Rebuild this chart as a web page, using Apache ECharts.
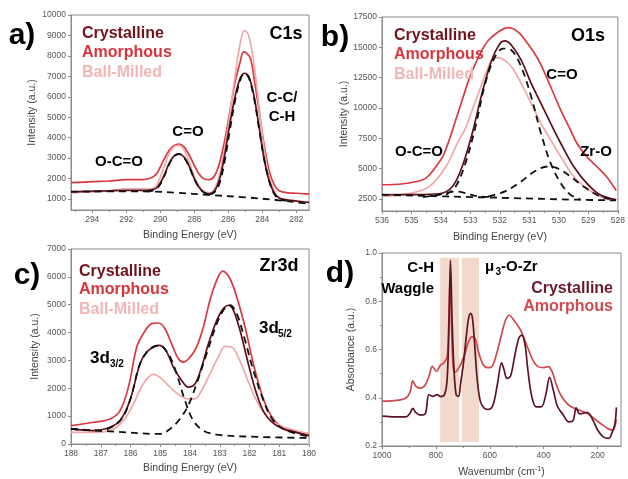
<!DOCTYPE html>
<html><head><meta charset="utf-8">
<script src="https://cdn.jsdelivr.net/npm/echarts@6/dist/echarts.min.js"></script>
<style>html,body{margin:0;padding:0;background:#fff}#c{width:628px;height:479px}</style>
</head><body><div id="c"></div>
<script>
// ---------- Panel a) C1s ----------
const c1sCrystalline = [[295.25,1350],[294.5,1370],[294,1380],[293,1400],[292,1420],[291,1420],[290.5,1450],[290.2,1550],[289.8,2100],[289.5,2700],[289.2,3100],[288.9,3200],[288.6,3050],[288.3,2600],[288.0,2000],[287.7,1550],[287.4,1300],[287.1,1250],[286.8,1400],[286.5,2000],[286.2,3200],[285.9,4700],[285.6,6000],[285.3,6900],[285.05,7150],[284.8,7000],[284.5,6100],[284.2,4600],[283.9,3000],[283.6,1900],[283.3,1300],[283.0,1050],[282.5,950],[282,900],[281.5,850],[281.25,830]];
const c1sAmorphous = [[295.25,1800],[294.5,1820],[294,1850],[293,1880],[292,1950],[291,1950],[290.5,2050],[290.2,2250],[289.8,2900],[289.5,3350],[289.2,3600],[288.9,3680],[288.6,3550],[288.3,3150],[288.0,2650],[287.7,2200],[287.4,1980],[287.1,1950],[286.8,2150],[286.5,2800],[286.2,3900],[285.9,5300],[285.6,6700],[285.3,7700],[285.1,8200],[284.95,8150],[284.7,7900],[284.5,7000],[284.2,5400],[283.9,3700],[283.6,2400],[283.3,1700],[283.0,1400],[282.5,1300],[282,1280],[281.5,1250],[281.25,1250]];
const c1sBallMilled = [[295.25,1300],[294,1350],[293,1400],[292,1500],[291,1500],[290.5,1500],[290.2,1700],[289.8,2500],[289.5,3200],[289.2,3550],[288.9,3620],[288.6,3400],[288.3,2800],[288.0,2100],[287.7,1600],[287.4,1350],[287.1,1300],[286.8,1500],[286.5,2200],[286.2,3500],[285.9,5200],[285.6,7000],[285.3,8600],[285.05,9250],[284.8,9000],[284.5,7700],[284.2,5600],[283.9,3500],[283.6,2100],[283.3,1400],[283.0,1050],[282.5,950],[282,900],[281.25,850]];
const c1sBackground = [[295.25,1360],[292,1370],[290.4,1360],[289,1300],[287.2,1200],[285,1080],[283.2,950],[282,840],[281.25,760]];
const c1sFitCO = [[290.8,1380],[290.4,1420],[290.1,1600],[289.8,2050],[289.5,2650],[289.2,3080],[288.9,3200],[288.6,3020],[288.3,2580],[288.0,1980],[287.7,1540],[287.4,1300],[287.1,1230]];
const c1sFitCC = [[287.1,1230],[286.8,1330],[286.5,1800],[286.2,2900],[285.9,4400],[285.6,5800],[285.3,6800],[285.05,7150],[284.8,6950],[284.5,6000],[284.2,4500],[283.9,3000],[283.6,1900],[283.3,1250],[283.0,1000],[282.6,920]];
const c1sXTicks = [294,292,290,288,286,284,282];
const c1sXMinor = [295,293,291,289,287,285,283];
const c1sYTicks = [1000,2000,3000,4000,5000,6000,7000,8000,9000,10000];

// ---------- Panel b) O1s ----------
const o1sAmorphous = [[536.0,3663],[535.28,3745],[534.61,4074],[534.39,4485],[534.17,5170],[533.94,5992],[533.72,7362],[533.5,9006],[533.28,10650],[533.06,12294],[532.83,13664],[532.61,14760],[532.39,15582],[532.06,16267],[531.72,16623],[531.39,16267],[531.06,15308],[530.72,14075],[530.5,12979],[530.28,11746],[529.94,9828],[529.61,8184],[529.39,7088],[529.06,5992],[528.72,5170],[528.39,4348],[528.06,3197]];
const o1sCrystalline = [[536.0,2841],[535.0,2850],[534.06,2923],[533.61,3526],[533.28,5170],[532.94,7910],[532.61,11198],[532.28,13938],[532.0,15308],[531.83,15527],[531.61,15171],[531.28,13938],[530.94,12020],[530.61,10376],[530.28,8732],[529.94,7088],[529.5,5170],[529.06,3800],[528.61,2841],[528.06,2430]];
const o1sBallMilled = [[536.0,2704],[535.0,2978],[534.39,3526],[533.83,5170],[533.39,7362],[533.17,8321],[532.94,9828],[532.61,12020],[532.39,13390],[532.17,14157],[531.94,14075],[531.61,13390],[531.28,12020],[530.94,10376],[530.61,8732],[530.28,7362],[529.94,5992],[529.5,4348],[529.06,3389],[528.61,2704],[528.28,2430],[528.06,2485]];
const o1sFitMain = [[533.83,2841],[533.5,3526],[533.17,5444],[532.83,8458],[532.5,12020],[532.17,14212],[531.89,14897],[531.61,14760],[531.28,13390],[530.94,10924],[530.61,7910],[530.28,5444],[529.94,3800],[529.61,2841],[529.28,2485]];
const o1sFitZrO = [[532.39,2704],[531.83,3115],[531.28,3937],[530.83,4759],[530.39,5170],[530.06,5033],[529.61,4348],[529.17,3526],[528.72,2841],[528.28,2485]];
const o1sFitOCO = [[534.61,2650],[534.06,2841],[533.5,3115],[533.17,2978],[532.72,2704],[532.17,2650]];
const o1sBackground = [[536.0,2841],[533.83,2704],[531.61,2567],[529.39,2430],[528.06,2375]];
const o1sYTicks = [2500,5000,7500,10000,12500,15000,17500];

// ---------- Panel c) Zr3d ----------
const zrAmorphous = [[188.0,660],[187.25,780],[186.69,900],[186.35,1200],[186.07,2040],[185.79,3480],[185.57,3960],[185.29,4320],[185.06,4344],[184.84,4140],[184.62,3600],[184.39,3060],[184.22,2940],[184.0,3120],[183.78,3480],[183.55,4200],[183.33,5160],[183.1,5880],[182.9,6204],[182.66,5940],[182.43,5280],[182.15,4200],[181.87,2880],[181.59,1800],[181.31,1080],[180.86,540],[180.41,420],[180.0,300]];
const zrCrystalline = [[188.0,540],[187.25,480],[186.69,600],[186.35,840],[186.02,1560],[185.68,2880],[185.46,3300],[185.18,3504],[185.01,3540],[184.78,3300],[184.56,2760],[184.28,2280],[184.06,2040],[183.83,2160],[183.61,2760],[183.38,3600],[183.1,4440],[182.88,4860],[182.71,4980],[182.54,4800],[182.32,4080],[182.04,2880],[181.76,1800],[181.48,1080],[181.09,660],[180.64,480],[180.0,300]];
const zrBallMilled = [[188.0,420],[187.25,420],[186.69,480],[186.24,840],[185.9,1440],[185.57,2160],[185.23,2496],[184.95,2340],[184.67,2040],[184.34,1740],[184.06,1620],[183.83,1620],[183.61,1920],[183.33,2520],[183.05,3120],[182.82,3504],[182.6,3480],[182.38,3120],[182.1,2400],[181.82,1680],[181.53,1140],[181.2,780],[180.75,576],[180.0,384]];
const zrFit32 = [[188.0,540],[187.03,480],[186.35,840],[186.02,1560],[185.68,2880],[185.34,3420],[185.03,3540],[184.73,3240],[184.45,2520],[184.17,1560],[183.89,840],[183.55,480],[183.1,336],[181.98,264],[180.0,216]];
const zrFit52 = [[188.0,540],[186.69,456],[185.01,360],[184.67,540],[184.34,900],[184.06,1380],[183.78,2160],[183.44,3240],[183.1,4320],[182.82,4896],[182.66,4980],[182.43,4680],[182.15,3720],[181.87,2640],[181.53,1560],[181.2,840],[180.75,480],[180.0,264]];

// ---------- Panel d) IR ----------
const irCrystalline = [[998,0.324],[954,0.321],[911,0.321],[895,0.338],[886,0.356],[874,0.338],[857,0.328],[839,0.334],[826,0.413],[812,0.406],[795,0.413],[783,0.405],[768,0.413],[758,0.48],[751,0.727],[746,0.97],[740,0.727],[733,0.522],[725,0.413],[716,0.406],[708,0.462],[698,0.54],[688,0.645],[679,0.727],[671,0.75],[664,0.727],[656,0.618],[647,0.481],[635,0.385],[619,0.355],[604,0.352],[588,0.37],[572,0.454],[556,0.545],[548,0.52],[536,0.48],[523,0.49],[508,0.57],[493,0.645],[482,0.66],[470,0.625],[458,0.509],[443,0.399],[427,0.362],[409,0.362],[392,0.413],[378,0.485],[364,0.43],[349,0.365],[328,0.33],[307,0.3],[291,0.305],[279,0.358],[266,0.333],[250,0.336],[238,0.34],[216,0.304],[198,0.263],[179,0.238],[158,0.232],[148,0.25],[136,0.29],[130,0.36]];
const irAmorphous = [[998,0.386],[954,0.388],[911,0.399],[895,0.427],[886,0.47],[874,0.447],[857,0.44],[839,0.454],[824,0.495],[813,0.53],[798,0.509],[783,0.535],[770,0.545],[758,0.57],[752,0.72],[747,0.9],[742,0.7],[737,0.55],[731,0.505],[712,0.529],[694,0.577],[679,0.631],[666,0.652],[654,0.645],[642,0.59],[626,0.54],[609,0.525],[592,0.53],[576,0.577],[557,0.659],[542,0.72],[528,0.742],[510,0.72],[488,0.685],[477,0.659],[458,0.604],[440,0.556],[421,0.529],[399,0.525],[384,0.529],[369,0.509],[353,0.454],[334,0.406],[309,0.372],[285,0.356],[260,0.345],[235,0.333],[210,0.311],[185,0.29],[161,0.272],[143,0.266],[136,0.28],[130,0.31]];
const irBands = [[784,714],[704,640]];
const irBandY = [0.217,0.98];
const irXTicks = [1000,800,600,400,200];
const irXMinor = [900,700,500,300];

// ---------- styling ----------
const FONT = '"Liberation Sans", Arial, sans-serif';
const AX = '#8a8a8a';
const LBL = '#555';
const C_CRYS = '#5e0f1a', C_AMOR = '#d9393f', C_BM = '#f0a8aa';
const C_CRYS_D = '#5c1427', C_AMOR_D = '#d0474d';
const plain = v => String(v);

function lab(extra) {
  return Object.assign({fontSize: 8.5, color: LBL, margin: 5, fontFamily: FONT,
    showMinLabel: true, showMaxLabel: true, formatter: plain}, extra);
}
function xAx(grid, min, max, extra) {
  return Object.assign({
    type: 'value', gridIndex: grid, min: min, max: max, inverse: true, position: 'bottom',
    axisLine: {show: true, onZero: false, lineStyle: {color: AX, width: 1}},
    axisTick: {show: true, length: 3, lineStyle: {color: AX}},
    splitLine: {show: false},
    axisLabel: lab(),
    nameLocation: 'middle',
    nameTextStyle: {fontSize: 10.5, color: '#444', fontFamily: FONT}
  }, extra);
}
function yAx(grid, min, max, extra) {
  return Object.assign({
    type: 'value', gridIndex: grid, min: min, max: max, position: 'left',
    axisLine: {show: true, lineStyle: {color: AX, width: 1}},
    axisTick: {show: true, length: 3, lineStyle: {color: AX}},
    splitLine: {show: false},
    axisLabel: lab(),
    nameLocation: 'middle',
    nameTextStyle: {fontSize: 10.5, color: '#444', fontFamily: FONT}
  }, extra);
}
function minorAx(grid, min, max, vals) {
  return {
    type: 'value', gridIndex: grid, min: min, max: max, inverse: true, position: 'bottom',
    axisLine: {show: false}, splitLine: {show: false},
    axisLabel: {show: false, customValues: vals},
    axisTick: {show: true, length: 2, lineStyle: {color: AX}, customValues: vals}
  };
}
function ln(data, xi, yi, color, width, dashed, z) {
  return {
    type: 'line', data: data, xAxisIndex: xi, yAxisIndex: yi, symbol: 'none', smooth: 0.35,
    silent: true, z: z,
    lineStyle: {color: color, width: width, type: dashed ? [7, 5] : 'solid'}
  };
}
function txt(x, y, text, size, color, align, weight) {
  return {
    type: 'text', x: x, y: y, z: 100, silent: true,
    style: {text: text, fill: color || '#000', font: (weight || 'bold') + ' ' + size + 'px ' + FONT,
      textAlign: align || 'left', textVerticalAlign: 'middle'}
  };
}

const option = {
  animation: false,
  backgroundColor: '#fff',
  grid: [
    {left: 71, top: 15, width: 238, height: 195, show: true, borderColor: AX, borderWidth: 1},
    {left: 382, top: 17, width: 239, height: 194, show: true, borderColor: AX, borderWidth: 1},
    {left: 71, top: 249, width: 238, height: 195, show: true, borderColor: AX, borderWidth: 1},
    {left: 382, top: 253, width: 239, height: 195, show: true, borderColor: AX, borderWidth: 1}
  ],
  xAxis: [
    xAx(0, 281.25, 295.25, {name: 'Binding Energy (eV)', nameGap: 20,
      axisLabel: lab({customValues: c1sXTicks}),
      axisTick: {show: true, length: 3, lineStyle: {color: AX}, customValues: c1sXTicks}}),
    minorAx(0, 281.25, 295.25, c1sXMinor),
    xAx(1, 528, 536, {interval: 1, name: 'Binding Energy (eV)', nameGap: 21,
      minorTick: {show: true, splitNumber: 2, length: 2, lineStyle: {color: AX}}}),
    xAx(2, 180, 188, {interval: 1, name: 'Binding Energy (eV)', nameGap: 19,
      minorTick: {show: true, splitNumber: 2, length: 2, lineStyle: {color: AX}}}),
    xAx(3, 113, 1000, {name: 'Wavenumbr (cm{sup|-1})', nameGap: 20,
      nameTextStyle: {fontSize: 10.5, color: '#444', fontFamily: FONT,
        rich: {sup: {fontSize: 7, color: '#444', fontFamily: FONT, verticalAlign: 'top', padding: [0, 0, 6, 0]}}},
      axisLabel: lab({customValues: irXTicks}),
      axisTick: {show: true, length: 3, lineStyle: {color: AX}, customValues: irXTicks}}),
    minorAx(3, 113, 1000, irXMinor)
  ],
  yAxis: [
    yAx(0, 460, 10000, {name: 'Intensity (a.u.)', nameGap: 33,
      axisLabel: lab({customValues: c1sYTicks}),
      axisTick: {show: true, length: 3, lineStyle: {color: AX}, customValues: c1sYTicks}}),
    yAx(1, 1500, 17500, {name: 'Intensity (a.u.)', nameGap: 31,
      axisLabel: lab({customValues: o1sYTicks}),
      axisTick: {show: true, length: 3, lineStyle: {color: AX}, customValues: o1sYTicks}}),
    yAx(2, 0, 7000, {interval: 1000, name: 'Intensity (a.u.)', nameGap: 30}),
    yAx(3, 0.2, 1.0, {interval: 0.2, name: 'Absorbance (a.u.)', nameGap: 25,
      minorTick: {show: true, splitNumber: 2, length: 2, lineStyle: {color: AX}},
      axisLabel: lab({formatter: v => v.toFixed(1)})})
  ],
  series: [
    ln(c1sAmorphous, 0, 0, C_AMOR, 1.7, false, 2),
    ln(c1sBallMilled, 0, 0, C_BM, 1.7, false, 3),
    ln(c1sCrystalline, 0, 0, C_CRYS, 1.7, false, 4),
    ln(c1sBackground, 0, 0, '#111', 1.8, true, 5),
    ln(c1sFitCO, 0, 0, '#111', 1.8, true, 5),
    ln(c1sFitCC, 0, 0, '#111', 1.8, true, 5),

    ln(o1sAmorphous, 2, 1, C_AMOR, 1.7, false, 2),
    ln(o1sBallMilled, 2, 1, C_BM, 1.7, false, 3),
    ln(o1sCrystalline, 2, 1, C_CRYS, 1.7, false, 4),
    ln(o1sBackground, 2, 1, '#111', 1.8, true, 5),
    ln(o1sFitOCO, 2, 1, '#111', 1.8, true, 5),
    ln(o1sFitMain, 2, 1, '#111', 1.8, true, 5),
    ln(o1sFitZrO, 2, 1, '#111', 1.8, true, 5),

    ln(zrAmorphous, 3, 2, C_AMOR, 1.7, false, 2),
    ln(zrBallMilled, 3, 2, C_BM, 1.7, false, 3),
    ln(zrCrystalline, 3, 2, C_CRYS, 1.7, false, 4),
    ln(zrFit32, 3, 2, '#111', 1.8, true, 5),
    ln(zrFit52, 3, 2, '#111', 1.8, true, 5),

    ln(irAmorphous, 4, 3, C_AMOR_D, 1.7, false, 2),
    ln(irCrystalline, 4, 3, C_CRYS_D, 1.7, false, 3),
    {type: 'line', data: [], xAxisIndex: 4, yAxisIndex: 3, z: 6, silent: true,
      markArea: {silent: true, itemStyle: {color: 'rgba(227,181,151,0.5)'},
        data: irBands.map(b => [{xAxis: b[0], yAxis: irBandY[0]}, {xAxis: b[1], yAxis: irBandY[1]}])}}
  ],
  graphic: {elements: [
    txt(22, 36, 'a)', 30, '#000', 'center'),
    txt(335, 38, 'b)', 30, '#000', 'center'),
    txt(27, 276, 'c)', 30, '#000', 'center'),
    txt(340, 274, 'd)', 30, '#000', 'center'),

    txt(82, 34, 'Crystalline', 16, '#73121d'),
    txt(82, 53, 'Amorphous', 16, '#d7353c'),
    txt(82, 73, 'Ball-Milled', 16, '#f3b5b5'),
    txt(286, 34, 'C1s', 18, '#000', 'center'),
    txt(188, 132, 'C=O', 15, '#000', 'center'),
    txt(119, 162, 'O-C=O', 15, '#000', 'center'),
    txt(282, 98, 'C-C/', 15, '#000', 'center'),
    txt(282, 117, 'C-H', 15, '#000', 'center'),

    txt(394, 36, 'Crystalline', 16, '#73121d'),
    txt(394, 55, 'Amorphous', 16, '#d7353c'),
    txt(394, 75, 'Ball-Milled', 16, '#f3b5b5'),
    txt(588, 36, 'O1s', 18, '#000', 'center'),
    txt(562, 75, 'C=O', 15, '#000', 'center'),
    txt(419, 152, 'O-C=O', 15, '#000', 'center'),
    txt(596, 152, 'Zr-O', 15, '#000', 'center'),

    txt(79, 272, 'Crystalline', 16, '#73121d'),
    txt(79, 290, 'Amorphous', 16, '#d7353c'),
    txt(79, 310, 'Ball-Milled', 16, '#f3b5b5'),
    txt(279, 266, 'Zr3d', 18, '#000', 'center'),
    txt(90, 358, '3d', 17, '#000'),
    txt(110, 364, '3/2', 10, '#000'),
    txt(259, 328, '3d', 17, '#000'),
    txt(278, 334, '5/2', 10, '#000'),

    txt(613, 289, 'Crystalline', 16, '#6d1a2e', 'right'),
    txt(613, 307, 'Amorphous', 16, '#d04a50', 'right'),
    txt(434, 268, 'C-H', 15, '#000', 'right'),
    txt(434, 289, 'Waggle', 15, '#000', 'right'),
    txt(485, 267, 'μ', 15, '#000'),
    txt(495.5, 272, '3', 10, '#000'),
    txt(501, 267, '-O-Zr', 15, '#000')
  ]}
};

const chart = echarts.init(document.getElementById('c'), null, {renderer: 'canvas'});
chart.setOption(option);
</script></body></html>
